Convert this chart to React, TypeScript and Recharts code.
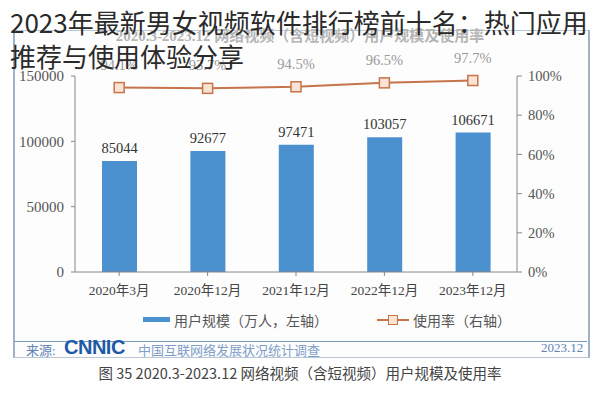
import {
  ComposedChart,
  Bar,
  Line,
  XAxis,
  YAxis,
  LabelList,
} from "recharts";

const periods = ["2020年3月", "2020年12月", "2021年12月", "2022年12月", "2023年12月"];
const users = [85044, 92677, 97471, 103057, 106671];
const usageRate = [94.1, 93.7, 94.5, 96.5, 97.7];
const leftTicks = [0, 50000, 100000, 150000];
const rightTicks = [0, 20, 40, 60, 80, 100];

const data = periods.map((p, i) => ({ period: p, users: users[i], rate: usageRate[i] }));

const serif = "'Liberation Serif', 'Noto Sans CJK SC', serif";
const sans = "'Noto Sans CJK SC', 'Noto Sans', sans-serif";
const BAR = "#4b90cf";
const LINE = "#c67449";

const SquareDot = (props: any) => {
  const { cx, cy } = props;
  if (cx == null || cy == null) return null;
  return (
    <rect x={cx - 5} y={cy - 5} width={10} height={10} fill="#f8e3d4" stroke={LINE} strokeWidth={1.5} />
  );
};

const RateLabel = (props: any) => {
  const { x, y, value } = props;
  return (
    <text x={x} y={y - 18} textAnchor="middle" fontFamily={serif} fontSize={14.5} fill="#999">
      {`${value}%`}
    </text>
  );
};

export default function App() {
  return (
    <div style={{ position: "absolute", left: 0, top: 0, width: 600, height: 401, background: "#fff", overflow: "hidden" }}>
      {/* frame */}
      <div style={{ position: "absolute", left: 13, top: 30, width: 573, height: 326, border: "1px solid #b8c6d6", borderLeft: "2px solid #9fb3c8", borderRight: "2px solid #9fb3c8", background: "#fdfdfd" }} />
      <div style={{ position: "absolute", left: 14, top: 341, width: 573, height: 1, background: "#7f9bbb" }} />
      <div style={{ position: "absolute", left: 0, top: 24, width: 600, textAlign: "center", fontFamily: serif, fontSize: 15, fontWeight: "bold", color: "#b5b5b5" }}>
        2020.3-2023.12 网络视频（含短视频）用户规模及使用率
      </div>
      <div style={{ position: "absolute", left: 0, top: 0 }}>
        <ComposedChart
          width={600}
          height={300}
          data={data}
          margin={{ top: 76, right: 20, bottom: 0, left: 10 }}
          barCategoryGap={20}
        >
          <XAxis
            dataKey="period"
            height={28}
            tick={{ fontFamily: serif, fontSize: 13.5, fill: "#444" }}
            tickLine={{ stroke: "#888" }}
            axisLine={{ stroke: "#888" }}
            interval={0}
            tickSize={4}
            tickMargin={9}
          />
          <YAxis
            yAxisId="left"
            width={65}
            domain={[0, 150000]}
            ticks={leftTicks}
            tick={{ fontFamily: serif, fontSize: 15, fill: "#555" }}
            tickLine={{ stroke: "#888" }}
            axisLine={{ stroke: "#888" }}
            tickSize={4}
            tickMargin={7}
          />
          <YAxis
            yAxisId="right"
            orientation="right"
            width={63}
            domain={[0, 100]}
            ticks={rightTicks}
            tickFormatter={(v) => `${v}%`}
            tick={{ fontFamily: serif, fontSize: 14.5, fill: "#555" }}
            tickLine={{ stroke: "#888" }}
            axisLine={{ stroke: "#888" }}
            tickSize={5}
            tickMargin={6}
          />
          <Bar yAxisId="left" dataKey="users" fill={BAR} barSize={35} isAnimationActive={false}>
            <LabelList dataKey="users" position="top" offset={8} style={{ fontFamily: serif, fontSize: 14.5, fill: "#333" }} />
          </Bar>
          <Line
            yAxisId="right"
            dataKey="rate"
            stroke={LINE}
            strokeWidth={2}
            dot={<SquareDot />}
            activeDot={false}
            isAnimationActive={false}
          >
            <LabelList dataKey="rate" content={<RateLabel />} />
          </Line>
        </ComposedChart>
      </div>
      {/* legend */}
      <div style={{ position: "absolute", left: 143, top: 317, width: 27, height: 5, background: BAR }} />
      <div style={{ position: "absolute", left: 174, top: 310, fontFamily: serif, fontSize: 14, color: "#555" }}>
        用户规模（万人，左轴）
      </div>
      <div style={{ position: "absolute", left: 377, top: 319, width: 32, height: 2, background: LINE }} />
      <div style={{ position: "absolute", left: 388, top: 315, width: 8, height: 8, background: "#f8e3d4", border: `1.5px solid ${LINE}` }} />
      <div style={{ position: "absolute", left: 413, top: 310, fontFamily: serif, fontSize: 14, color: "#555" }}>
        使用率（右轴）
      </div>
      {/* source row */}
      <div style={{ position: "absolute", left: 26, top: 340, fontFamily: serif, fontSize: 13, color: "#5f84b5" }}>来源:</div>
      <div style={{ position: "absolute", left: 64, top: 336, fontFamily: "'Liberation Sans', Arial, sans-serif", fontSize: 20, fontWeight: "bold", color: "#1d5aa8", letterSpacing: -0.5 }}>CNNIC</div>
      <div style={{ position: "absolute", left: 138, top: 340, fontFamily: serif, fontSize: 13, color: "#7f9fc9" }}>中国互联网络发展状况统计调查</div>
      <div style={{ position: "absolute", left: 541, top: 340, fontFamily: serif, fontSize: 13, color: "#5f84b5" }}>2023.12</div>
      {/* caption */}
      <div style={{ position: "absolute", left: 0, top: 362, width: 600, textAlign: "center", fontFamily: sans, fontSize: 14.5, color: "#444" }}>
        图 35 2020.3-2023.12 网络视频（含短视频）用户规模及使用率
      </div>
      {/* overlay title */}
      <div style={{ position: "absolute", left: 10, top: 5, width: 590, fontFamily: sans, fontSize: 26, lineHeight: "34px", color: "#2a2a2a" }}>
        2023年最新男女视频软件排行榜前十名：热门应用推荐与使用体验分享
      </div>
    </div>
  );
}
